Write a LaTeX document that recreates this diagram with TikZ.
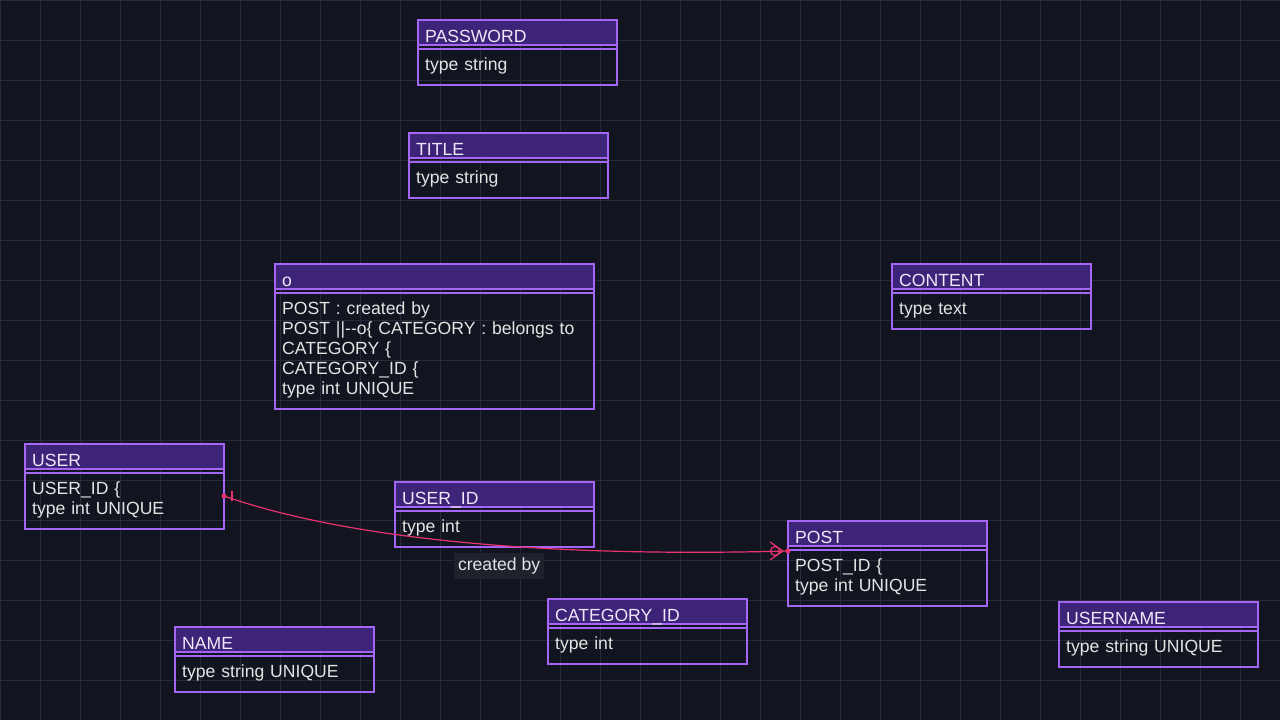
\documentclass[tikz,border=0pt]{standalone}
\usepackage{fontspec}
\setmainfont{Liberation Sans}

\definecolor{bgcol}{HTML}{12151F}
\definecolor{gridcol}{HTML}{262A3A}
\definecolor{entborder}{HTML}{A366F5}
\definecolor{headfill}{HTML}{3D2478}
\definecolor{headtext}{HTML}{EEE8F8}
\definecolor{bodytext}{HTML}{E4E4E4}
\definecolor{edgecol}{HTML}{E8336F}
\definecolor{labelfill}{HTML}{1E222D}

\tikzset{
  entbox/.style={draw=entborder, line width=2pt, rectangle, inner sep=0pt, outer sep=0pt, anchor=north west},
  enthead/.style={entbox, fill=headfill, minimum height=25pt},
  entline/.style={draw=entborder, line width=1.5pt},
  enttitle/.style={text=headtext, font=\fontsize{17.6pt}{20pt}\selectfont, inner sep=0pt, anchor=base west},
  enttext/.style={text=bodytext, font=\fontsize{17.6pt}{20pt}\selectfont, inner sep=0pt,
    anchor=base west, text width=310pt, align=left},
  relline/.style={draw=edgecol, line width=1.2pt},
  rellabel/.style={fill=labelfill, text=bodytext, font=\fontsize{17.6pt}{20pt}\selectfont,
    inner xsep=4pt, inner ysep=0pt, minimum height=26pt, text height=13pt, text depth=4pt},
  gridline/.style={draw=gridcol, line width=1pt}
}

% name, x, y, width, height, title, body
\newcommand{\entity}[7]{%
  \node[entbox, minimum width=#4, minimum height=#5] (#1) at (#2,#3) {};
  \node[enthead, minimum width=#4] (#1-h) at (#2,#3) {};
  \draw[entline] ([yshift=-4pt]#1-h.south west) -- ([yshift=-4pt]#1-h.south east);
  \node[enttitle] (#1-t) at ([xshift=7pt,yshift=-22pt]#1.north west) {#6};
  \node[enttext] (#1-b) at ([xshift=7pt,yshift=-50pt]#1.north west) {#7};
}

\begin{document}
\begin{tikzpicture}[x=1pt, y=-1pt]
\fill[bgcol] (0,0) rectangle (1280,720);
\useasboundingbox (0,0) rectangle (1280,720);

\foreach \i in {0,40,...,1280} \draw[gridline] (\i,0) -- (\i,720);
\foreach \j in {0,40,...,720} \draw[gridline] (0,\j) -- (1280,\j);

\entity{password}{418}{20}{199pt}{65pt}{PASSWORD}{type string}
\entity{title}{409}{133}{199pt}{65pt}{TITLE}{type string}
\entity{o}{275}{264}{319pt}{145pt}{o}{POST : created by\\POST ||-{}-o\{ CATEGORY : belongs to\\CATEGORY \{\\CATEGORY\_ID \{\\type int UNIQUE}
\entity{content}{892}{264}{199pt}{65pt}{CONTENT}{type text}
\entity{user}{25}{444}{199pt}{85pt}{USER}{USER\_ID \{\\type int UNIQUE}
\entity{userid}{395}{482}{199pt}{65pt}{USER\_ID}{type int}
\entity{post}{788}{521}{199pt}{85pt}{POST}{POST\_ID \{\\type int UNIQUE}
\entity{catid}{548}{599}{199pt}{65pt}{CATEGORY\_ID}{type int}
\entity{name}{175}{627}{199pt}{65pt}{NAME}{type string UNIQUE}
\entity{username}{1059}{602}{199pt}{65pt}{USERNAME}{type string UNIQUE}

% relation
\coordinate (ue) at ([yshift=-9.5pt]user.east);
\coordinate (pe) at ([yshift=12.5pt]post.west);
\draw[relline] (ue) .. controls +(150,52) and +(-187,5) .. (pe)
  node[rellabel, pos=0.5, xshift=7pt, yshift=-21pt] (createdby) {created by};
\fill[edgecol] (ue) circle (2.5pt);
\draw[relline] ([xshift=8pt]ue) ++(0,-5) -- ++(0,10);
\fill[edgecol] (pe) circle (2.5pt);
\draw[relline] ([xshift=-13pt]pe) circle (4.5pt);
\draw[relline] ([xshift=-18pt,yshift=9pt]pe) -- ([xshift=-5pt]pe) -- ([xshift=-18pt,yshift=-9pt]pe);

\end{tikzpicture}
\end{document}
